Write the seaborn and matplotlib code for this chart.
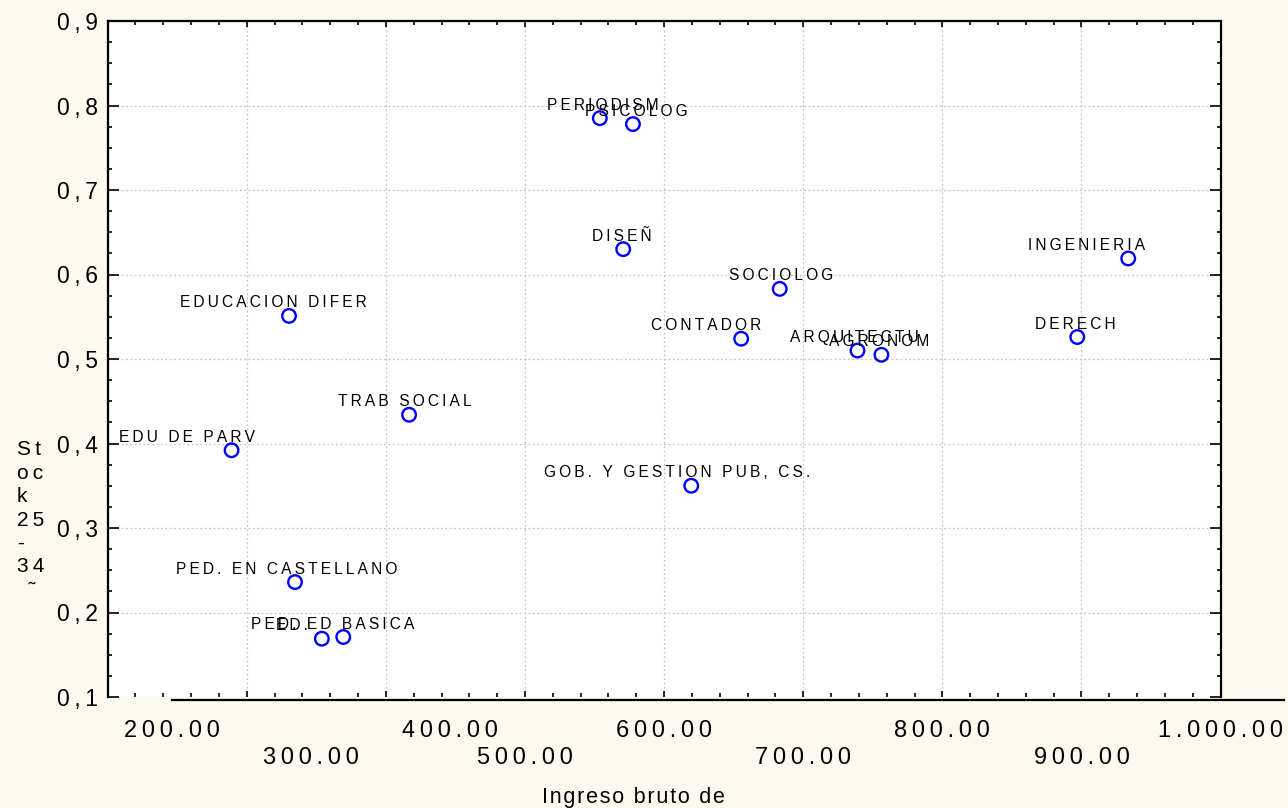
import pandas as pd
import seaborn as sns
import matplotlib.pyplot as plt
from matplotlib.ticker import FixedLocator, MultipleLocator

# data
careers = ['EDU DE PARV', 'EDUCACION DIFER', 'TRAB SOCIAL', 'PED. EN CASTELLANO',
           'ED.', 'PED. ED BASICA', 'PERIODISM', 'PSICOLOG', 'DISEÑ', 'SOCIOLOG',
           'CONTADOR', 'ARQUITECTU', 'AGRONOM', 'INGENIERIA', 'DERECH',
           'GOB. Y GESTION PUB, CS.']
income = [289.1, 330.4, 416.7, 334.7, 354.0, 369.4, 553.8, 577.6, 570.6, 683.1,
          655.4, 739.0, 756.2, 933.6, 897.0, 619.5]
stock = [0.392, 0.551, 0.434, 0.236, 0.169, 0.171, 0.785, 0.778, 0.630, 0.583,
         0.524, 0.510, 0.505, 0.619, 0.526, 0.350]

x_ticks = [200, 300, 400, 500, 600, 700, 800, 900, 1000]
x_ticklabels = ['200.00', '300.00', '400.00', '500.00', '600.00', '700.00',
                '800.00', '900.00', '1.000.00']
y_ticks = [0.1, 0.2, 0.3, 0.4, 0.5, 0.6, 0.7, 0.8, 0.9]
y_ticklabels = ['0,1', '0,2', '0,3', '0,4', '0,5', '0,6', '0,7', '0,8', '0,9']

# layout of the point labels (pixels, left edge relative to the point)
label_dx = [-113, -109, -71, -119, -46, -92, -53, -48, -31, -51, -90, -67, -52,
            -100, -42, -147]
label_dy = 13

HAIR = '\u200a'
THIN = '\u2009'


def spaced(s, sep=THIN):
    return sep.join(s)


sns.set_theme(style='white')
plt.rcParams['font.family'] = ['Liberation Sans', 'DejaVu Sans']

W, H = 1288, 808
BG = '#FDF9EE'
fig = plt.figure(figsize=(W / 100, H / 100), dpi=100, facecolor=BG)
ax = fig.add_axes([107.6 / W, 1 - 697 / H, 1113 / W, 676 / H])
ax.set_facecolor('white')

df = pd.DataFrame({'carrera': careers, 'ingreso': income, 'stock': stock})
sns.scatterplot(data=df, x='ingreso', y='stock', ax=ax, marker='o', s=95,
                facecolor='none', edgecolor='#0000FF', linewidth=1.7, zorder=3)

for name, xv, yv, dx in zip(careers, income, stock, label_dx):
    ax.annotate(spaced(name), (xv, yv), xytext=(dx, label_dy),
                textcoords='offset pixels', ha='left', va='center',
                fontsize=11.2, color='black', zorder=4)

ax.set_xlim(200, 1000)
ax.set_ylim(0.1, 0.9)
ax.set_xlabel('')
ax.set_ylabel('')
ax.set_axisbelow(True)

ax.xaxis.set_major_locator(FixedLocator(x_ticks))
ax.xaxis.set_minor_locator(MultipleLocator(20))
ax.yaxis.set_major_locator(FixedLocator(y_ticks))
ax.yaxis.set_minor_locator(MultipleLocator(0.025))
ax.grid(True, which='major', linestyle=(0, (1.5, 2)), color='#C4C4C4',
        linewidth=0.9)

ax.tick_params(which='both', direction='in', top=True, right=True,
               bottom=True, left=True, color='black', width=1.2)
ax.tick_params(axis='y', which='major', length=8)
ax.tick_params(axis='y', which='minor', length=3)
ax.tick_params(axis='x', which='major', length=4)
ax.tick_params(axis='x', which='minor', length=3)

ax.set_yticklabels([spaced(t) for t in y_ticklabels], fontsize=16.5)
ax.tick_params(axis='y', pad=7, labelcolor='black')

# main axis carries the labels from 500 on, staggered in two rows
main_lbls = []
for i, t in enumerate(x_ticklabels):
    if x_ticks[i] < 500:
        main_lbls.append('')
    elif i % 2 == 1:
        main_lbls.append('\n' + spaced(t))
    else:
        main_lbls.append(spaced(t))
ax.set_xticklabels(main_lbls, fontsize=17, linespacing=1.3)
ax.tick_params(axis='x', pad=16.5, labelcolor='black')

for side in ['left', 'top', 'right']:
    ax.spines[side].set_color('black')
    ax.spines[side].set_linewidth(1.6)
ax.spines['bottom'].set_visible(False)

# shifted bottom axis line (as in the original export)
ax_off = fig.add_axes([171.6 / W, 1 - 699.5 / H, 1112 / W, 0.0001])
ax_off.patch.set_visible(False)
for side in ['left', 'top', 'right']:
    ax_off.spines[side].set_visible(False)
ax_off.spines['bottom'].set_color('black')
ax_off.spines['bottom'].set_linewidth(1.6)
ax_off.set_xlim(200, 1000)
ax_off.set_yticks([])
ax_off.xaxis.set_major_locator(FixedLocator(x_ticks))
off_lbls = []
for i, t in enumerate(x_ticklabels):
    if x_ticks[i] >= 500:
        off_lbls.append('')
    elif i % 2 == 1:
        off_lbls.append('\n' + spaced(t))
    else:
        off_lbls.append(spaced(t))
ax_off.set_xticklabels(off_lbls, fontsize=17, linespacing=1.3)
ax_off.tick_params(axis='x', direction='in', length=6, width=1.2,
                   color='black', pad=14.5, labelcolor='black')

fig.text(633 / W, 1 - 797 / H, spaced('Ingreso bruto de', HAIR), ha='center',
         va='center', fontsize=15.5, color='black')
ylab = '\n'.join(spaced(p) for p in ['St', 'oc', 'k', '25', '-', '34']) + '\n  \u02dc'
fig.text(17 / W, 1 - 440 / H, ylab, ha='left', va='top', fontsize=15,
         linespacing=1.3, color='black')

fig.savefig('out.png', dpi=100, facecolor=BG)
